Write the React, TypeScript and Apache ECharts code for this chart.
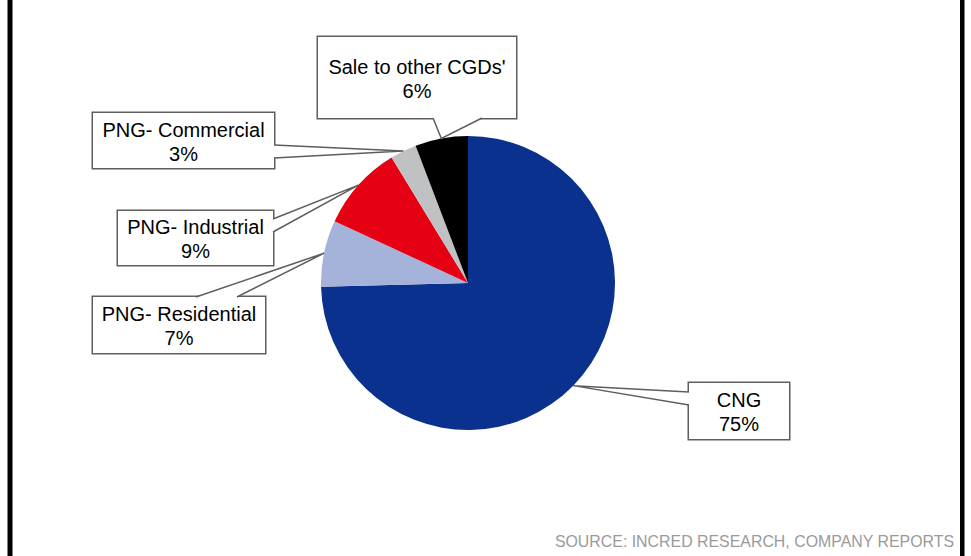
import React, { useEffect, useRef } from "react";
import * as echarts from "echarts";

// ---- data ----
const categories = ["CNG", "PNG- Residential", "PNG- Industrial", "PNG- Commercial", "Sale to other CGDs'"];
const shares = [74.6, 7.3, 9.4, 2.9, 5.8];
const sliceColors = ["#0B318F", "#A5B2D9", "#E60013", "#C0C1C3", "#000000"];
const sourceNote = "SOURCE: INCRED RESEARCH, COMPANY REPORTS";

// ---- layout (positions / sizes only) ----
const PIE_CX = 468;
const PIE_CY = 283;
const PIE_R = 147;
const FONT = "'Liberation Sans', Arial, Helvetica, sans-serif";
const LINE_H = 24;
const STROKE = "#5E5E5E";

const calloutBoxes = [
  { x: 689, y: 383, w: 100, h: 56, pt: 5, base: [[689, 392], [689, 405]] },
  { x: 93, y: 297, w: 172, h: 56, pt: 5, base: [[196, 297], [237, 297]] },
  { x: 118, y: 211, w: 155, h: 54, pt: 4, base: [[273, 219], [273, 232]] },
  { x: 93, y: 113, w: 181, h: 55, pt: 5, base: [[274, 145], [274, 158]] },
  { x: 318, y: 37, w: 198, h: 81, pt: 18, base: [[433, 118], [482, 118]] },
];

export default function App() {
  const ref = useRef<HTMLDivElement>(null);

  useEffect(() => {
    if (!ref.current) return;
    const chart = echarts.init(ref.current, undefined, { renderer: "svg" });

    const data = categories.map((name, i) => {
      const b = calloutBoxes[i];
      return {
        name,
        value: shares[i],
        itemStyle: { color: sliceColors[i] },
        label: {
          width: b.w,
          padding: [b.pt, 0, b.h - 2 * LINE_H - b.pt, 0],
        },
      };
    });

    chart.setOption({
      animation: false,
      backgroundColor: "#ffffff",
      graphic: [
        { id: "bl", type: "rect", shape: { x: 7.5, y: 0, width: 5, height: 556 }, style: { fill: "#000" } },
        { id: "br", type: "rect", shape: { x: 960, y: 0, width: 4.5, height: 556 }, style: { fill: "#000" } },
        {
          id: "src",
          type: "text",
          x: 954,
          y: 541,
          style: {
            text: sourceNote,
            fill: "#9A9A9A",
            font: `15.9px ${FONT}`,
            align: "right",
            verticalAlign: "middle",
          },
        },
      ],
      series: [
        {
          type: "pie",
          center: [PIE_CX, PIE_CY],
          radius: PIE_R,
          startAngle: 90,
          clockwise: true,
          avoidLabelOverlap: false,
          silent: true,
          itemStyle: { borderWidth: 0 },
          label: {
            show: true,
            position: "outside",
            formatter: (p: any) => `${p.name}\n${Math.round(p.percent)}%`,
            color: "#000",
            fontFamily: FONT,
            fontSize: 20,
            lineHeight: LINE_H,
            backgroundColor: "#ffffff",
            borderColor: STROKE,
            borderWidth: 1.5,
            align: "center",
          },
          labelLine: { show: false },
          labelLayout: (params: any) => {
            const b = calloutBoxes[params.dataIndex];
            return { x: b.x + b.w / 2, y: b.y, align: "center", verticalAlign: "top" };
          },
          data,
        },
      ],
    });

    // Callout wedges: tip at the slice's mid-angle on the outer edge.
    let layouts: any[] = [];
    try {
      const sd = (chart as any).getModel().getSeriesByIndex(0).getData();
      layouts = categories.map((_, i) => sd.getItemLayout(i));
    } catch (e) {
      layouts = [];
    }
    const total = shares.reduce((a, v) => a + v, 0);
    let acc = 0;
    const wedges: any[] = [];
    categories.forEach((_, i) => {
      let tip: number[];
      const l = layouts[i];
      if (l && l.startAngle != null) {
        const mid = (l.startAngle + l.endAngle) / 2;
        tip = [l.cx + l.r * Math.cos(mid), l.cy + l.r * Math.sin(mid)];
      } else {
        const a0 = -Math.PI / 2 + (acc / total) * Math.PI * 2;
        const a1 = -Math.PI / 2 + ((acc + shares[i]) / total) * Math.PI * 2;
        const mid = (a0 + a1) / 2;
        tip = [PIE_CX + PIE_R * Math.cos(mid), PIE_CY + PIE_R * Math.sin(mid)];
      }
      acc += shares[i];
      const b = calloutBoxes[i];
      const [p0, p1] = b.base;
      const vertical = p0[0] === p1[0];
      const cxBox = b.x + b.w / 2;
      const cyBox = b.y + b.h / 2;
      const sx = vertical ? Math.sign(cxBox - p0[0]) * 1.5 : 0;
      const sy = vertical ? 0 : Math.sign(cyBox - p0[1]) * 1.5;
      const fillPts = [
        [p0[0] + sx, p0[1] + sy],
        p0,
        tip,
        p1,
        [p1[0] + sx, p1[1] + sy],
      ];
      wedges.push({
        id: `wf${i}`,
        type: "polygon",
        z: 20,
        shape: { points: fillPts },
        style: { fill: "#ffffff", stroke: null },
      });
      wedges.push({
        id: `ws${i}`,
        type: "polyline",
        z: 21,
        shape: { points: [p0, tip, p1] },
        style: { stroke: STROKE, lineWidth: 1.5, fill: null },
      });
    });
    chart.setOption({ graphic: wedges });

    return () => chart.dispose();
  }, []);

  return (
    <div
      ref={ref}
      style={{ position: "fixed", left: 0, top: 0, width: 971, height: 556, background: "#fff" }}
    />
  );
}
